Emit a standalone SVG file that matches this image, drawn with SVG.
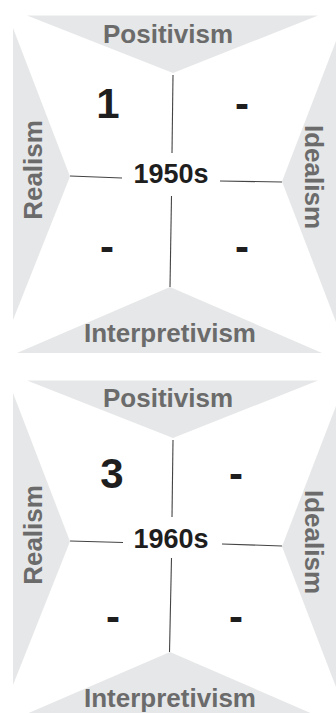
<svg xmlns="http://www.w3.org/2000/svg" width="336" height="713" viewBox="0 0 336 713">
<style>
.bg{fill:#e6e7e8}
.lab{font-family:"Liberation Sans",Arial,sans-serif;font-weight:bold;font-size:26px;fill:#6b6b6b;text-anchor:middle}
.ctr{font-family:"Liberation Sans",Arial,sans-serif;font-weight:bold;font-size:27px;fill:#1e1e1e;text-anchor:middle}
.num{font-family:"Liberation Sans",Arial,sans-serif;font-weight:bold;font-size:42px;fill:#1e1e1e;text-anchor:middle}
.cn line{stroke:#444;stroke-width:1.1}
</style>
<rect width="336" height="713" fill="#fff"/>
<g id="panel-1950s">
  <g id="p1-positivism"><polygon class="bg" points="27,15.5 318,15.5 173,73"/><text class="lab" x="168" y="43">Positivism</text></g>
  <g id="p1-realism"><polygon class="bg" points="13,28 70,176.5 13,320"/><text class="lab" transform="translate(42,170) rotate(-90)">Realism</text></g>
  <g id="p1-idealism"><polygon class="bg" points="341,28 282,181.5 341,335"/><text class="lab" transform="translate(305,177) rotate(90)">Idealism</text></g>
  <g id="p1-interpretivism"><polygon class="bg" points="17,353 322,353 170,287"/><text class="lab" x="170" y="342">Interpretivism</text></g>
  <g id="p1-connectors" class="cn">
    <line x1="173" y1="75" x2="172" y2="153"/>
    <line x1="171.5" y1="196" x2="170" y2="287"/>
    <line x1="70" y1="176" x2="122" y2="178"/>
    <line x1="220" y1="181" x2="282" y2="182"/>
  </g>
  <g id="p1-center"><text class="ctr" x="171" y="183">1950s</text></g>
  <g id="p1-q1"><text class="num" x="108" y="118">1</text></g>
  <g id="p1-q2"><text class="num" x="242" y="118">-</text></g>
  <g id="p1-q3"><text class="num" x="107" y="261">-</text></g>
  <g id="p1-q4"><text class="num" x="242" y="261">-</text></g>
</g>
<g id="panel-1960s">
  <g id="p2-positivism"><polygon class="bg" points="27,380.5 318,380.5 173,438"/><text class="lab" x="168" y="407">Positivism</text></g>
  <g id="p2-realism"><polygon class="bg" points="13,393 70,541.5 13,685"/><text class="lab" transform="translate(42,535) rotate(-90)">Realism</text></g>
  <g id="p2-idealism"><polygon class="bg" points="341,393 282,546.5 341,700"/><text class="lab" transform="translate(305,542) rotate(90)">Idealism</text></g>
  <g id="p2-interpretivism"><polygon class="bg" points="17,718 322,718 170,652"/><text class="lab" x="170" y="707">Interpretivism</text></g>
  <g id="p2-connectors" class="cn">
    <line x1="173" y1="440" x2="172" y2="517"/>
    <line x1="171.5" y1="558" x2="169.5" y2="652"/>
    <line x1="70" y1="541" x2="123" y2="542.5"/>
    <line x1="222" y1="544" x2="282" y2="546"/>
  </g>
  <g id="p2-center"><text class="ctr" x="171" y="548">1960s</text></g>
  <g id="p2-q1"><text class="num" x="112" y="488">3</text></g>
  <g id="p2-q2"><text class="num" x="236" y="488">-</text></g>
  <g id="p2-q3"><text class="num" x="113" y="631">-</text></g>
  <g id="p2-q4"><text class="num" x="236" y="631">-</text></g>
</g>
</svg>
